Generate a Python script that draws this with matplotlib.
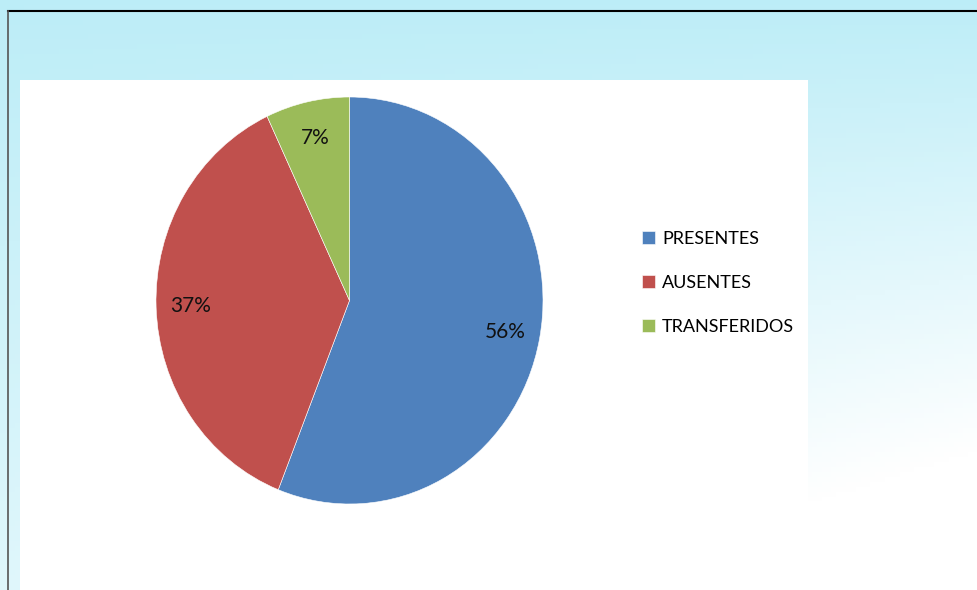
import numpy as np
import matplotlib.pyplot as plt
from matplotlib.patches import Rectangle
from matplotlib.lines import Line2D

categories = ["PRESENTES", "AUSENTES", "TRANSFERIDOS"]
values = [56, 37, 7]
colors = ["#4F81BD", "#C0504D", "#9BBB59"]

plt.rcParams['font.family'] = ['Lato', 'DejaVu Sans']

W, H = 978, 590
fig = plt.figure(figsize=(W / 100, H / 100), dpi=100)

# light sky background (smooth gradient), fading to white at the bottom right
bg = fig.add_axes([0, 0, 1, 1])
bg.set_zorder(0)
gx, gy = np.meshgrid(np.linspace(0, 1, 200), np.linspace(0, 1, 120))
fade = np.clip(1.0 - 1.3 * gy * (0.4 + 0.6 * gx), 0, 1)
top = np.array([0.74, 0.93, 0.97])
img = np.ones((120, 200, 3)) * (1 - fade[..., None]) + top * fade[..., None]
bg.imshow(img, extent=[0, 1, 0, 1], aspect='auto', origin='upper')
bg.set_xlim(0, 1)
bg.set_ylim(0, 1)
bg.axis('off')

# white chart area
bg.add_patch(Rectangle((20 / W, 0), 788 / W, 510 / H, transform=fig.transFigure,
                       facecolor='white', edgecolor='none', zorder=2))
# frame lines
bg.add_line(Line2D([8 / W, 1], [1 - 11 / H, 1 - 11 / H], transform=fig.transFigure,
                   color='black', linewidth=1.5, zorder=3))
bg.add_line(Line2D([8 / W, 8 / W], [0, 1 - 11 / H], transform=fig.transFigure,
                   color='#555555', linewidth=1.2, zorder=3))

ax = fig.add_axes([156 / W, 86 / H, 387 / W, 407 / H])
ax.set_zorder(5)
wedges, texts, autotexts = ax.pie(values, colors=colors, startangle=90, counterclock=False,
                                  autopct='%d%%', pctdistance=0.82,
                                  wedgeprops=dict(edgecolor='white', linewidth=0.4),
                                  textprops=dict(fontsize=15, color='#111111'))
ax.set_aspect('auto')
ax.set_xlim(-1, 1)
ax.set_ylim(-1, 1)

leg = fig.legend(wedges, categories, loc='center left', bbox_to_anchor=(626 / W, 1 - 283 / H),
                 frameon=False, fontsize=13, handlelength=0.7, handleheight=0.7,
                 handletextpad=0.4, labelspacing=1.55)
leg.set_zorder(6)

fig.savefig('out.png', dpi=100)
